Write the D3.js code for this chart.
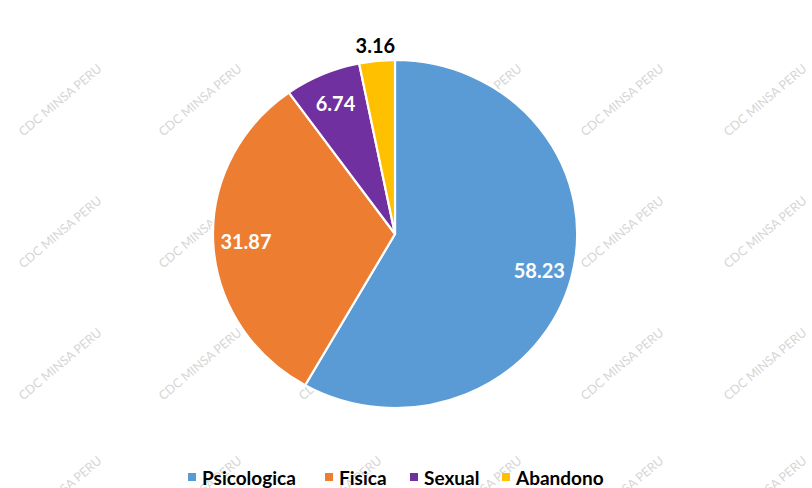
<!DOCTYPE html>
<html>
<head>
<meta charset="utf-8">
<script src="https://cdn.jsdelivr.net/npm/d3@7"></script>
<style>
  html, body { margin: 0; padding: 0; background: #ffffff; }
  svg { display: block; }
</style>
</head>
<body>
<svg id="chart" width="812" height="488"></svg>
<script>
// Tipos de violencia (%)
const categories = ["Psicologica", "Fisica", "Sexual", "Abandono"];
const values = [58.23, 31.87, 6.74, 3.16];
const colors = ["#5B9BD5", "#ED7D31", "#7030A0", "#FFC000"];
const watermarkText = "CDC MINSA PERU";

const W = 812, H = 488;
const cx = 395, cy = 234;
const rx = 182, ry = 174;           // pie is slightly wider than tall
const fontFamily = "Lato, 'Open Sans', 'Noto Sans', sans-serif";

const svg = d3.select("#chart");

// faint repeating watermark behind the chart
const wmCols = [60, 200, 340, 480, 622, 765];
const wmRows = [100, 232, 364, 492];
const wm = svg.append("g").attr("class", "watermark");
wmRows.forEach(y => wmCols.forEach(x => {
  wm.append("text")
    .attr("transform", `translate(${x},${y}) rotate(-40)`)
    .attr("text-anchor", "middle")
    .attr("dominant-baseline", "central")
    .attr("font-family", fontFamily)
    .attr("font-size", 12.5)
    .attr("fill", "#d6d6d6")
    .text(watermarkText);
}));

const data = categories.map((c, i) => ({ cat: c, value: values[i], color: colors[i] }));
const pie = d3.pie().sort(null).value(d => d.value);
const arcs = pie(data);

// draw on a unit-radius arc and stretch to the ellipse
const arc = d3.arc().innerRadius(0).outerRadius(1);
const pieG = svg.append("g")
  .attr("transform", `translate(${cx},${cy}) scale(${rx},${ry})`);

pieG.selectAll("path")
  .data(arcs)
  .join("path")
  .attr("d", arc)
  .attr("fill", d => d.data.color)
  .attr("stroke", "#ffffff")
  .attr("stroke-width", 2.2)
  .attr("vector-effect", "non-scaling-stroke");

// value labels: inside for large slices, outside for small ones
const labelG = svg.append("g");
arcs.forEach(a => {
  const mid = (a.startAngle + a.endAngle) / 2;
  const outside = a.data.value < 5;
  const k = outside ? 1.09 : 0.82;
  const x = cx + Math.sin(mid) * rx * k;
  const y = cy - Math.cos(mid) * ry * k;
  labelG.append("text")
    .attr("x", x)
    .attr("y", y)
    .attr("text-anchor", "middle")
    .attr("dominant-baseline", "central")
    .attr("font-family", fontFamily)
    .attr("font-weight", 700)
    .attr("font-size", 20)
    .attr("fill", outside ? "#000000" : "#ffffff")
    .text(d3.format(".2f")(a.data.value));
});

// legend along the bottom
const legend = svg.append("g").attr("transform", "translate(0,477)");
const legendX = [188, 325, 410, 502];
data.forEach((d, i) => {
  const g = legend.append("g").attr("transform", `translate(${legendX[i]},0)`);
  g.append("rect")
    .attr("x", 0).attr("y", -4)
    .attr("width", 8).attr("height", 8)
    .attr("fill", d.color);
  g.append("text")
    .attr("x", 14)
    .attr("y", 0)
    .attr("dominant-baseline", "central")
    .attr("font-family", fontFamily)
    .attr("font-weight", 700)
    .attr("font-size", 19)
    .attr("fill", "#000000")
    .text(d.cat);
});
</script>
</body>
</html>
